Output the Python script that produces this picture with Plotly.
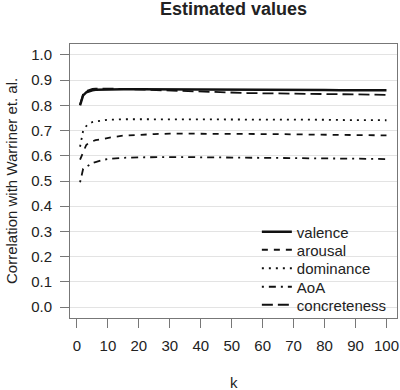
import plotly.graph_objects as go

k = [1, 2, 3, 4, 5, 6, 8, 10, 12, 15, 20, 25, 30, 35, 40, 45, 50, 55, 60, 65, 70, 75, 80, 85, 90, 95, 100]

valence = [0.800, 0.840, 0.852, 0.857, 0.860, 0.862, 0.863, 0.864, 0.864, 0.864, 0.864, 0.864, 0.863, 0.863, 0.863, 0.862, 0.862, 0.862, 0.862, 0.861, 0.861, 0.861, 0.861, 0.860, 0.860, 0.860, 0.860]
arousal = [0.585, 0.615, 0.643, 0.653, 0.659, 0.662, 0.666, 0.672, 0.675, 0.680, 0.684, 0.686, 0.688, 0.688, 0.688, 0.688, 0.688, 0.687, 0.687, 0.686, 0.685, 0.684, 0.684, 0.683, 0.682, 0.682, 0.681]
dominance = [0.636, 0.700, 0.718, 0.728, 0.734, 0.737, 0.740, 0.743, 0.744, 0.745, 0.745, 0.745, 0.745, 0.745, 0.745, 0.745, 0.745, 0.744, 0.744, 0.744, 0.743, 0.743, 0.743, 0.742, 0.742, 0.742, 0.741]
aoa = [0.495, 0.548, 0.556, 0.565, 0.571, 0.575, 0.583, 0.587, 0.590, 0.592, 0.594, 0.595, 0.595, 0.595, 0.594, 0.594, 0.593, 0.593, 0.592, 0.592, 0.591, 0.590, 0.590, 0.589, 0.588, 0.588, 0.587]
concreteness = [0.803, 0.845, 0.857, 0.862, 0.865, 0.866, 0.867, 0.867, 0.866, 0.865, 0.863, 0.860, 0.857, 0.855, 0.853, 0.851, 0.850, 0.849, 0.848, 0.847, 0.846, 0.845, 0.845, 0.844, 0.843, 0.842, 0.842]

names = ["valence", "arousal", "dominance", "AoA", "concreteness"]
series = [valence, arousal, dominance, aoa, concreteness]
dashes = ["solid", "6px,6px", "2px,5px", "2px,5px,7px,5px", "11px,5px"]
widths = [2.4, 1.8, 1.8, 1.8, 1.8]

x_ticks = [0, 10, 20, 30, 40, 50, 60, 70, 80, 90, 100]
y_ticks = [0.0, 0.1, 0.2, 0.3, 0.4, 0.5, 0.6, 0.7, 0.8, 0.9, 1.0]

FONT = "Liberation Sans, Arial, sans-serif"
L, T, W, H = 70, 44, 329, 274
legend_rows_px = [232, 250, 268.5, 287, 305]
legend_ids = ["legend", "legend2", "legend3", "legend4", "legend5"]

fig = go.Figure()
for name, ys, d, w, lid in zip(names, series, dashes, widths, legend_ids):
    fig.add_trace(go.Scatter(x=k, y=ys, mode="lines", name=name, legend=lid,
                             line=dict(color="#111111", width=w, dash=d)))

legend_layout = {}
for lid, ypx in zip(legend_ids, legend_rows_px):
    legend_layout[lid] = dict(x=(258 - L) / W, y=(T + H - ypx) / H, xanchor="left",
                              yanchor="middle", bgcolor="rgba(0,0,0,0)", borderwidth=0,
                              font=dict(size=15, color="#222222"))

fig.update_layout(
    width=400, height=390,
    margin=dict(l=L, r=400 - L - W, t=T, b=390 - T - H),
    paper_bgcolor="white", plot_bgcolor="white",
    font=dict(family=FONT, size=15, color="#222222"),
    showlegend=True,
    annotations=[
        dict(text="<b>Estimated values</b>", x=0.5, y=1, xref="paper", yref="paper",
             xanchor="center", yanchor="middle", yshift=(44 - 9), showarrow=False,
             font=dict(size=18, color="#222222")),
        dict(text="k", x=0.5, y=0, xref="paper", yref="paper", xanchor="center",
             yanchor="middle", yshift=-(382 - 318), showarrow=False, font=dict(size=15)),
        dict(text="Correlation with Warriner et. al.", x=0, y=0.5, xref="paper", yref="paper",
             xanchor="center", yanchor="middle", xshift=-(70 - 11), textangle=-90,
             showarrow=False, font=dict(size=15)),
    ],
    **legend_layout,
)

fig.update_xaxes(range=[-2.25, 103.4], tickvals=x_ticks, ticktext=[str(v) for v in x_ticks],
                 showgrid=False, zeroline=False, showline=True, linecolor="#777777",
                 linewidth=1, mirror=True, ticks="outside", ticklen=9, tickcolor="#777777",
                 tickwidth=1, ticklabelstandoff=5, ticklabeloverflow="allow")
fig.update_yaxes(range=[-0.0435, 1.0435], tickvals=y_ticks, ticktext=[f"{v:.1f}" for v in y_ticks],
                 showgrid=True, gridcolor="#e3e3e3", gridwidth=1, zeroline=False,
                 showline=True, linecolor="#777777", linewidth=1, mirror=True,
                 ticks="outside", ticklen=9, tickcolor="#777777", tickwidth=1,
                 ticklabelstandoff=5)

fig.write_html("out.html", config={"displayModeBar": False},
               post_script="document.body.style.margin='0';document.body.style.overflow='hidden';")
